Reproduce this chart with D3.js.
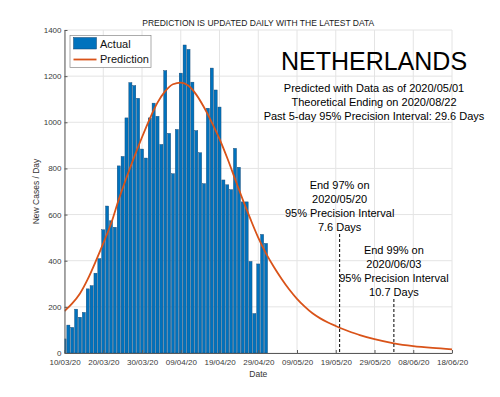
<!DOCTYPE html>
<html>
<head>
<meta charset="utf-8">
<script src="https://cdnjs.cloudflare.com/ajax/libs/d3/7.8.5/d3.min.js"></script>
<style>
  body { margin: 0; background: #fff; }
  text { font-family: "Liberation Sans", Arial, sans-serif; }
</style>
</head>
<body>
<script>
// daily new cases, one per day starting at START_DATE
const START_DATE = "10/03/20"
const CASES = [
  61, 121, 111, 190, 155, 176, 278, 292, 346, 409, 534, 637, 573, 545, 811, 852,
  1019, 1172, 1159, 1104, 884, 845, 1019, 1083, 1026, 904, 1224, 952, 777, 969,
  1213, 1335, 1316, 1174, 964, 868, 734, 1061, 1235, 1140, 1066, 750, 729, 708,
  887, 805, 655, 655, 397, 171, 386, 514, 475
]

// prediction curve (day = days after START_DATE)
const PRED_DAYS = [0, 2, 4, 6, 8, 10, 12, 14, 16, 18, 20, 22, 24, 26, 28, 30, 32, 34, 36, 38,
  40, 42, 44, 46, 48, 50, 52, 54, 56, 58, 60, 62, 64, 66, 68, 70, 72, 74, 76, 80, 85, 90, 95, 100]
const PRED_VALUES = [182, 215, 258, 320, 395, 475, 560, 665, 760, 850, 935, 1015, 1085, 1135, 1165, 1172,
  1158, 1120, 1065, 1000, 928, 845, 755, 665, 580, 500, 432, 374, 322, 275, 235, 201, 172, 150, 132,
  117, 103, 90, 79, 60, 42, 30, 22, 16]

const X_TICKS = ["10/03/20", "20/03/20", "30/03/20", "09/04/20", "19/04/20", "29/04/20",
  "09/05/20", "19/05/20", "29/05/20", "08/06/20", "18/06/20"]
const Y_TICKS = [0, 200, 400, 600, 800, 1000, 1200, 1400]

const TITLE = "PREDICTION IS UPDATED DAILY WITH THE LATEST DATA"
const COUNTRY = "NETHERLANDS"
const INFO_LINES = [
  "Predicted with Data as of 2020/05/01",
  "Theoretical Ending on 2020/08/22",
  "Past 5-day 95% Precision Interval: 29.6 Days"
]
const END_DATES = ["20/05/20", "03/06/20"]
const END_LINES = [
  ["End 97% on", "2020/05/20", "95% Precision Interval", "7.6 Days"],
  ["End 99% on", "2020/06/03", "95% Precision Interval", "10.7 Days"]
]

const m = {
    width: 500,
    height: 397,
    left: 64.5,
    right: 452,
    top: 30,
    bottom: 353
}

const BLUE = "#0072BD"
const ORANGE = "#D95319"

const parse = d3.utcParse("%d/%m/%y")
const start = parse(START_DATE)

const svg = d3.select("body").append("svg")
    .attr("width", m.width)
    .attr("height", m.height)

const x = d3.scaleUtc()
    .domain([parse(X_TICKS[0]), parse(X_TICKS[X_TICKS.length - 1])])
    .range([m.left, m.right])

const y = d3.scaleLinear()
    .domain([0, 1400])
    .range([m.bottom, m.top])

svg.append("clipPath").attr("id", "plotClip")
  .append("rect")
    .attr("x", m.left).attr("y", m.top)
    .attr("width", m.right - m.left).attr("height", m.bottom - m.top)

// grid
svg.append("g").selectAll("line")
  .data(X_TICKS)
  .enter().append("line")
    .attr("x1", d => x(parse(d))).attr("x2", d => x(parse(d)))
    .attr("y1", m.top).attr("y2", m.bottom)
    .attr("stroke", "#e4e4e4")
svg.append("g").selectAll("line")
  .data(Y_TICKS)
  .enter().append("line")
    .attr("x1", m.left).attr("x2", m.right)
    .attr("y1", d => y(d)).attr("y2", d => y(d))
    .attr("stroke", "#e4e4e4")

// bars
const dayW = x(d3.utcDay.offset(start, 1)) - x(start)
const plot = svg.append("g").attr("clip-path", "url(#plotClip)")

plot.selectAll("rect")
  .data(CASES)
  .enter().append("rect")
    .attr("x", (d, i) => x(d3.utcDay.offset(start, i)) - dayW * 0.4)
    .attr("width", dayW * 0.8)
    .attr("y", d => y(d))
    .attr("height", d => m.bottom - y(d))
    .attr("fill", BLUE)
    .attr("stroke", "#16426b")
    .attr("stroke-width", 0.4)

// prediction
const line = d3.line()
    .x(d => x(d3.utcDay.offset(start, d[0])))
    .y(d => y(d[1]))
    .curve(d3.curveMonotoneX)

plot.append("path")
    .datum(PRED_DAYS.map((d, i) => [d, PRED_VALUES[i]]))
    .attr("d", line)
    .attr("fill", "none")
    .attr("stroke", ORANGE)
    .attr("stroke-width", 1.8)

// axes
svg.append("g")
    .attr("transform", `translate(0,${m.bottom})`)
    .call(d3.axisBottom(x)
      .tickValues(X_TICKS.map(parse))
      .tickFormat(d3.utcFormat("%d/%m/%y"))
      .tickSizeInner(-3).tickSizeOuter(0).tickPadding(6))

svg.append("g")
    .attr("transform", `translate(${m.left},0)`)
    .call(d3.axisLeft(y)
      .tickValues(Y_TICKS)
      .tickFormat(d3.format("d"))
      .tickSizeInner(-3).tickSizeOuter(0).tickPadding(3))

svg.selectAll(".domain, .tick line").attr("stroke", "#5a5a5a")
svg.selectAll(".tick text")
    .attr("fill", "#3a3a3a")
    .style("font-size", "8px")
    .style("font-family", "Liberation Sans, Arial, sans-serif")

svg.append("text")
    .attr("x", (m.left + m.right) / 2).attr("y", 377)
    .attr("text-anchor", "middle")
    .attr("fill", "#333")
    .style("font-size", "8.5px")
    .text("Date")

svg.append("text")
    .attr("transform", `translate(39,${(m.top + m.bottom) / 2}) rotate(-90)`)
    .attr("text-anchor", "middle")
    .attr("fill", "#333")
    .style("font-size", "8.5px")
    .text("New Cases / Day")

svg.append("text")
    .attr("x", (m.left + m.right) / 2).attr("y", 25.7)
    .attr("text-anchor", "middle")
    .attr("fill", "#1a1a1a")
    .style("font-size", "8.5px")
    .text(TITLE)

// legend
const leg = svg.append("g")
leg.append("rect")
    .attr("x", 70).attr("y", 35.5).attr("width", 81).attr("height", 32)
    .attr("fill", "#fff").attr("stroke", "#888").attr("stroke-width", 0.7)
leg.append("rect")
    .attr("x", 73.5).attr("y", 37.5).attr("width", 23).attr("height", 11.5)
    .attr("fill", BLUE).attr("stroke", "#16426b").attr("stroke-width", 0.5)
leg.append("line")
    .attr("x1", 73.5).attr("x2", 96.5).attr("y1", 59.5).attr("y2", 59.5)
    .attr("stroke", ORANGE).attr("stroke-width", 1.8)
leg.selectAll("text")
  .data(["Actual", "Prediction"])
  .enter().append("text")
    .attr("x", 100)
    .attr("y", (d, i) => 47.5 + i * 15.5)
    .style("font-size", "11px")
    .attr("fill", "#111")
    .text(d => d)

// country + info text
svg.append("text")
    .attr("x", 374).attr("y", 70)
    .attr("text-anchor", "middle")
    .style("font-size", "25px")
    .attr("fill", "#000")
    .text(COUNTRY)

svg.append("g").selectAll("text")
  .data(INFO_LINES)
  .enter().append("text")
    .attr("x", 374)
    .attr("y", (d, i) => 91.5 + i * 14)
    .attr("text-anchor", "middle")
    .style("font-size", "11px")
    .attr("fill", "#000")
    .text(d => d)

// end markers
const NOTE_TOP = [185, 250]
END_DATES.forEach(function(dt, k) {
    const xp = x(parse(dt))
    svg.append("line")
        .attr("x1", xp).attr("x2", xp)
        .attr("y1", NOTE_TOP[k] + 49).attr("y2", m.bottom)
        .attr("stroke", "#000")
        .attr("stroke-width", 1)
        .attr("stroke-dasharray", "3,2")
    svg.append("g").selectAll("text")
      .data(END_LINES[k])
      .enter().append("text")
        .attr("x", xp)
        .attr("y", (d, i) => NOTE_TOP[k] + 4 + i * 14)
        .attr("text-anchor", "middle")
        .style("font-size", "11px")
        .attr("fill", "#000")
        .text(d => d)
})
</script>
</body>
</html>
